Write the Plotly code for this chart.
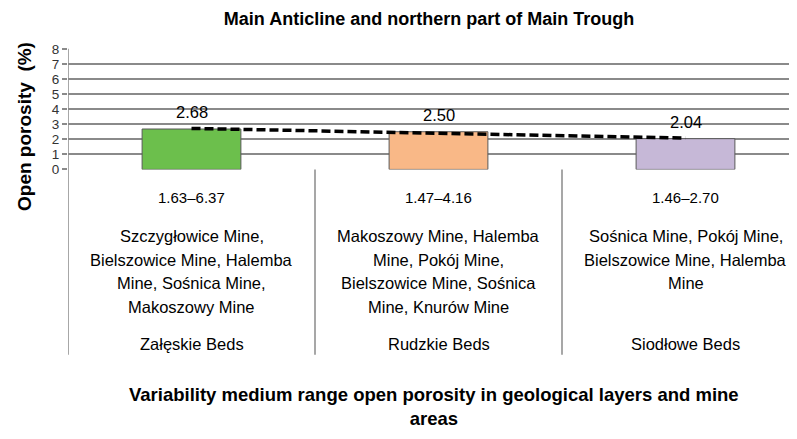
import plotly.graph_objects as go

beds = ["Załęskie Beds", "Rudzkie Beds", "Siodłowe Beds"]
mean_porosity = [2.68, 2.50, 2.04]
porosity_range = ["1.63–6.37", "1.47–4.16", "1.46–2.70"]
mine_lines = [
    ["Szczygłowice Mine,", "Bielszowice Mine, Halemba", "Mine, Sośnica Mine,", "Makoszowy Mine"],
    ["Makoszowy Mine, Halemba", "Mine, Pokój Mine,", "Bielszowice Mine, Sośnica", "Mine, Knurów Mine"],
    ["Sośnica Mine, Pokój Mine,", "Bielszowice Mine, Halemba", "Mine"],
]
trend_values = [2.72, 2.40, 2.08]
bar_colors = ["#6cbf4c", "#f9b887", "#c6b8d7"]
y_ticks = [0, 1, 2, 3, 4, 5, 6, 7, 8]

# the page body has an 8px margin, so the figure is drawn 8px smaller
OFF = 8
W, H = 797 - OFF, 439 - OFF
L = 68 - OFF
FONT = "Liberation Sans, Arial, sans-serif"
GRID = "#8a8a8a"
CAT_W = 247.0


def py(pix):
    # screen pixel row -> paper y
    return (H - (pix - OFF)) / H


def px(pix):
    # screen pixel column -> paper x
    return (pix - OFF - L) / (W - L)


x_pos = list(range(len(beds)))

fig = go.Figure()
fig.add_trace(go.Bar(
    x=x_pos, y=mean_porosity, width=0.4,
    marker=dict(color=bar_colors, line=dict(color="#595959", width=1)),
    showlegend=False, hoverinfo="skip"
))
fig.add_trace(go.Scatter(
    x=x_pos, y=trend_values, mode="lines",
    line=dict(color="#000000", width=3.5, dash="9px,4px"),
    showlegend=False, hoverinfo="skip"
))

# value labels above bars
for i, v in enumerate(mean_porosity):
    fig.add_annotation(x=i, y=v, text=f"{v:.2f}", showarrow=False,
                       xanchor="center", yanchor="bottom", yshift=6,
                       font=dict(size=16.5, color="#000000", family=FONT))

# table-like category area below the plot
txt = dict(showarrow=False, xanchor="center", yanchor="middle", yref="paper")
for i in range(len(beds)):
    fig.add_annotation(x=i, y=py(197), text=porosity_range[i],
                       font=dict(size=15, color="#000000", family=FONT), **txt)
    for j, line in enumerate(mine_lines[i]):
        fig.add_annotation(x=i, y=py(237 + 24.5 * j), text=line,
                           font=dict(size=16.5, color="#000000", family=FONT), **txt)
    fig.add_annotation(x=i, y=py(349), text=beds[i],
                       font=dict(size=16.5, color="#000000", family=FONT), **txt)

for xb in [-0.5, 0.5, 1.5]:
    fig.add_shape(type="line", x0=xb, x1=xb, y0=py(360), y1=py(43) if xb == -0.5 else py(168),
                  xref="x", yref="paper", line=dict(color=GRID, width=1.5))

fig.add_annotation(x=px(25), xref="paper", y=py(124), yref="paper",
                   text="<b>Open porosity  (%)</b>", textangle=-90, showarrow=False,
                   xanchor="center", yanchor="middle",
                   font=dict(size=19, color="#000000", family=FONT))

fig.add_annotation(x=px(434), xref="paper", y=py(414), yref="paper",
                   text="<b>Variability medium range open porosity in geological layers and mine<br>areas</b>",
                   showarrow=False, align="center", xanchor="center", yanchor="middle",
                   font=dict(size=18.5, color="#000000", family=FONT))

fig.update_layout(
    width=W, height=H,
    margin=dict(l=L, r=0, t=0, b=0),
    paper_bgcolor="white", plot_bgcolor="white",
    title=dict(text="<b>Main Anticline and northern part of Main Trough</b>",
               x=(429 - OFF) / W, xanchor="center", y=py(19), yanchor="middle",
               font=dict(size=18, color="#000000", family=FONT)),
    xaxis=dict(range=[-0.5, -0.5 + (W - L) / CAT_W], showticklabels=False,
               showgrid=False, zeroline=False, fixedrange=True),
    yaxis=dict(range=[0, 8], domain=[py(168), py(43)], tickvals=y_ticks,
               showgrid=True, gridcolor=GRID, gridwidth=1.5, zeroline=False,
               ticks="outside", ticklen=5, tickcolor=GRID, tickwidth=1.5,
               tickfont=dict(size=13.5, color="#333333", family=FONT)),
)

fig.write_html("out.html")
